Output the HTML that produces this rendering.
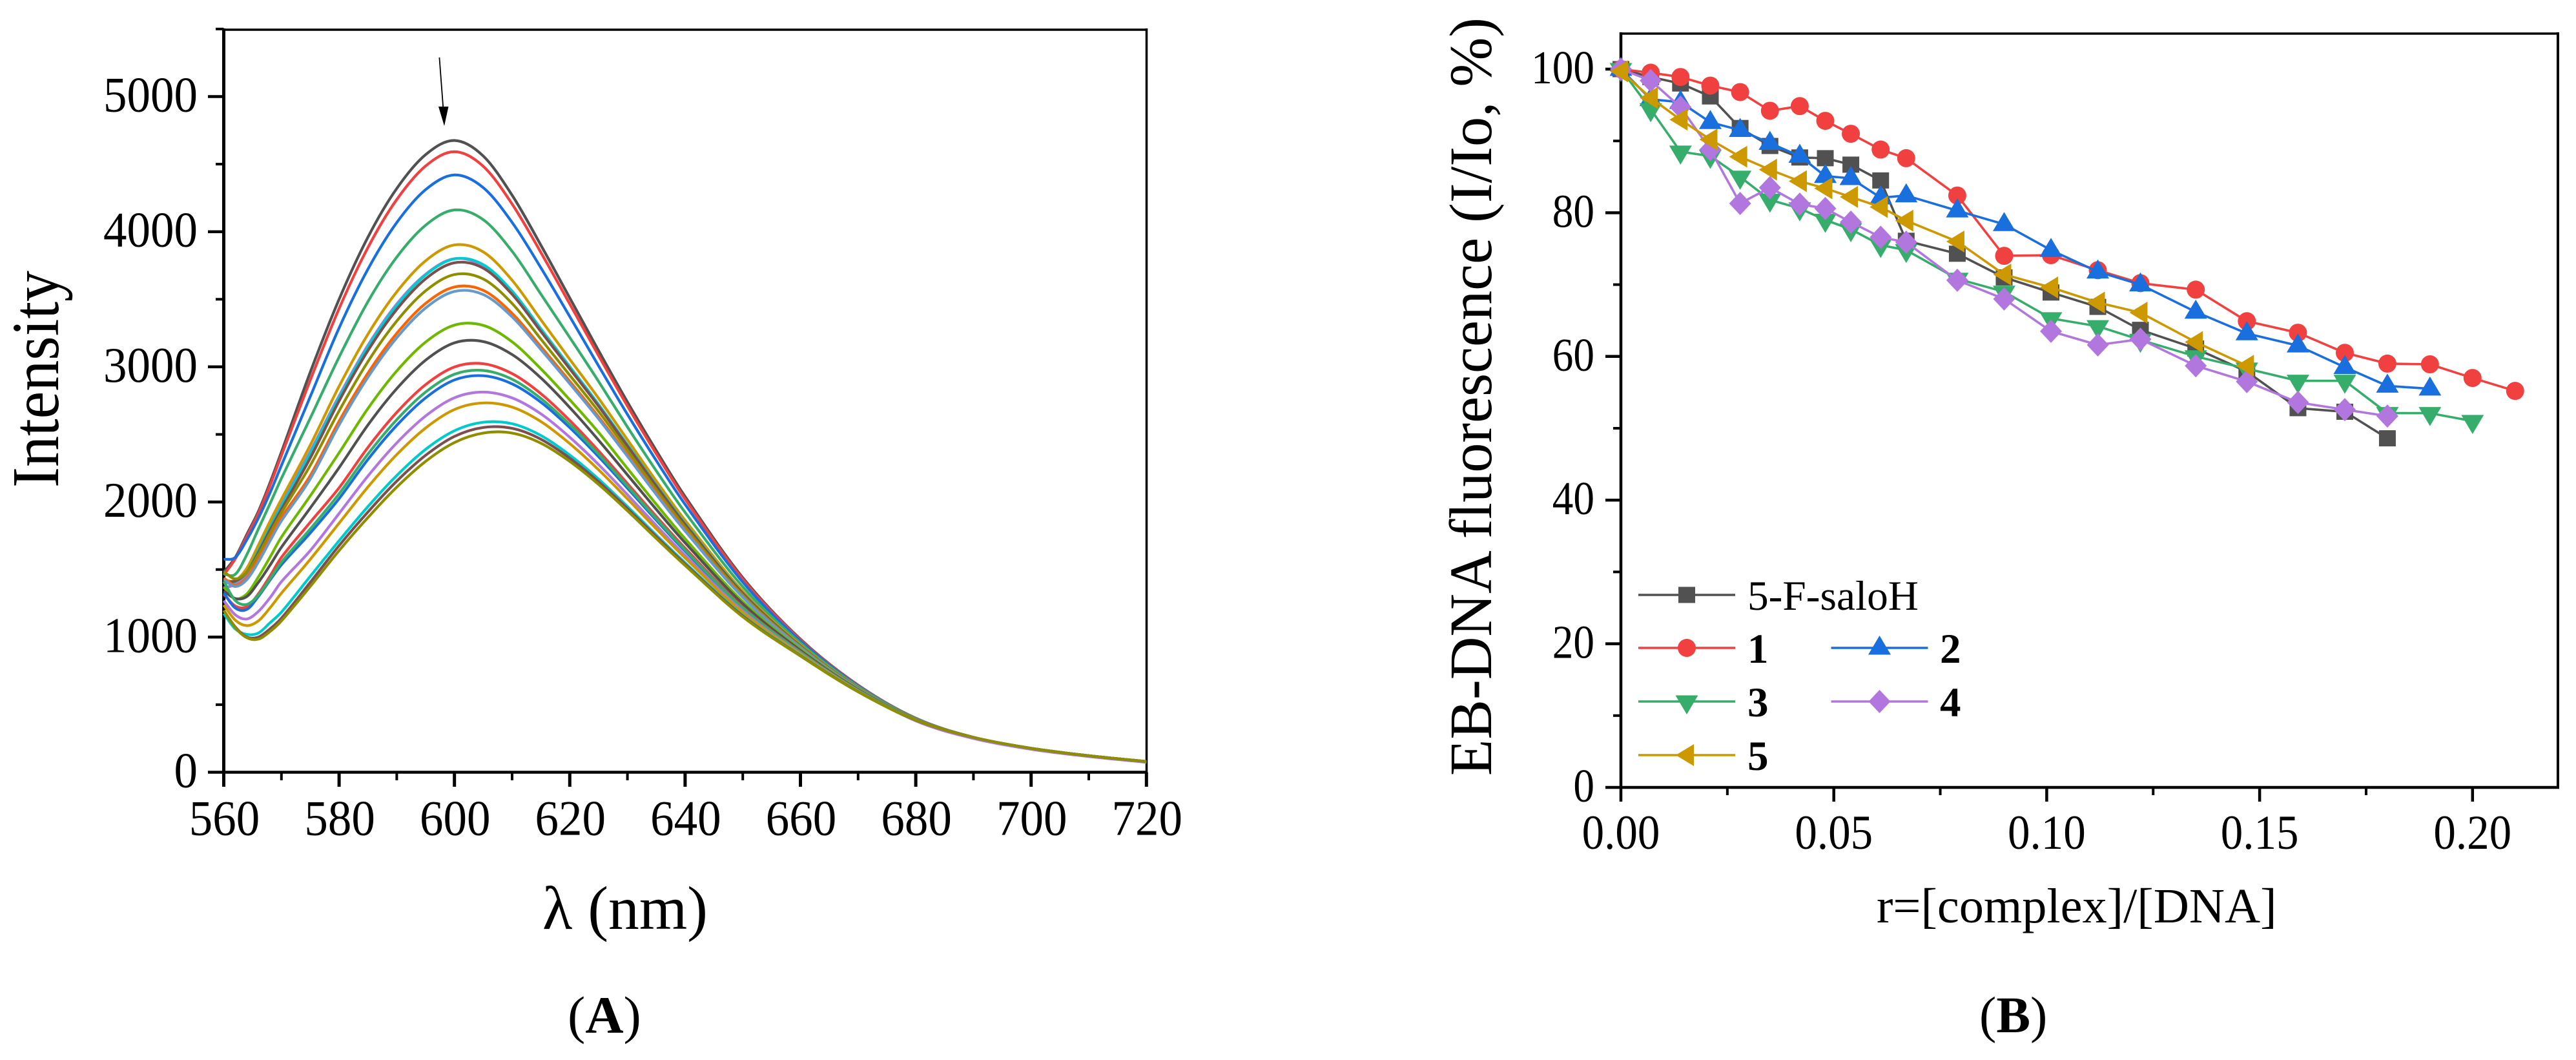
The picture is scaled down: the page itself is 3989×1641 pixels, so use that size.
<!DOCTYPE html>
<html lang="en">
<head>
<meta charset="utf-8">
<title>EB-DNA fluorescence quenching</title>
<style>
html,body{margin:0;padding:0;background:#fff;}
body{width:3989px;height:1641px;overflow:hidden;}
svg{display:block;}
text{font-family:"Liberation Serif","DejaVu Serif",serif;fill:#000;}
</style>
</head>
<body>
<svg id="figure" xmlns="http://www.w3.org/2000/svg" width="3989" height="1641" viewBox="0 0 3989 1641">
<rect x="0" y="0" width="3989" height="1641" fill="#ffffff"/>
<g id="panel-a"></g>
<g id="panel-b"></g>
</svg>
<script>
/* ---------- Panel A data ---------- */
const wavelengths = [560,562,564,566,568,570,575,580,585,590,595,600,605,610,615,620,625,630,635,640,650,660,670,680,690,700,710,720];
const curveColors = ['#515151','#F14040','#1A6FDF','#37AD6B','#B177DE','#CC9900','#00CBCC','#7D4E4E','#8E8E00','#FB6501','#6699CC','#6FB802','#515151','#F14040','#1A6FDF','#37AD6B','#B177DE','#CC9900','#00CBCC','#7D4E4E','#8E8E00'];
const curve01 = [1480,1590,1760,1930,2140,2370,2960,3500,3960,4320,4570,4675,4560,4270,3900,3510,3120,2740,2380,2040,1440,985,645,400,258,177,122,78];
const curve02 = [1460,1580,1745,1915,2120,2345,2901,3431,3883,4238,4486,4592,4484,4205,3846,3465,3083,2710,2356,2021,1429,980,643,399,258,177,122,78];
const curve03 = [1575,1590,1720,1880,2065,2270,2779,3288,3723,4068,4311,4420,4326,4069,3733,3372,3007,2648,2306,1982,1407,971,639,398,258,177,122,78];
const curve04 = [1465,1465,1610,1800,1985,2175,2620,3072,3483,3812,4048,4161,4089,3855,3538,3217,2892,2555,2230,1923,1373,956,634,397,258,177,122,78];
const curve05 = [1365,1390,1470,1650,1825,1985,2375,2785,3160,3465,3685,3800,3745,3540,3262,2985,2710,2412,2115,1830,1315,925,615,380,250,170,116,73];
const curve06 = [1420,1420,1510,1680,1855,2020,2420,2856,3242,3555,3785,3902,3851,3641,3348,3056,2767,2461,2155,1864,1340,942,628,395,258,177,122,79];
const curve07 = [1400,1410,1480,1640,1810,1970,2360,2771,3147,3454,3680,3799,3756,3560,3281,3001,2722,2424,2125,1840,1326,936,625,394,258,177,122,79];
const curve08 = [1410,1415,1480,1625,1790,1945,2325,2747,3120,3425,3651,3770,3730,3537,3262,2985,2709,2414,2117,1833,1323,934,625,394,258,177,122,79];
const curve09 = [1484,1431,1480,1610,1765,1920,2270,2674,3039,3339,3562,3683,3650,3469,3205,2938,2670,2383,2091,1814,1311,930,623,393,258,177,122,79];
const curve10 = [1436,1385,1440,1575,1730,1885,2195,2598,2954,3248,3469,3591,3566,3396,3149,2893,2630,2350,2065,1793,1299,924,621,393,258,177,122,79];
const curve11 = [1425,1375,1425,1555,1710,1860,2170,2570,2923,3215,3435,3558,3535,3370,3128,2875,2615,2338,2055,1785,1295,922,620,392,258,177,122,79];
const curve12 = [1370,1285,1320,1445,1590,1740,2045,2364,2692,2970,3183,3309,3307,3185,2985,2756,2515,2248,1983,1728,1263,909,614,391,258,177,122,79];
const curve13 = [1341,1285,1300,1405,1530,1665,1955,2254,2570,2839,3049,3178,3187,3091,2918,2699,2457,2201,1945,1698,1246,901,611,390,258,177,122,79];
const curve14 = [1317,1230,1225,1320,1450,1590,1850,2105,2404,2663,2868,2999,3023,2950,2801,2603,2378,2136,1893,1658,1222,891,607,389,258,177,122,79];
const curve15 = [1326,1215,1205,1300,1420,1535,1770,2025,2315,2567,2770,2903,2934,2874,2738,2550,2335,2102,1865,1636,1210,886,605,388,258,177,122,79];
const curve16 = [1412,1270,1242,1310,1430,1555,1800,2060,2354,2609,2813,2945,2973,2908,2766,2573,2354,2117,1877,1645,1216,888,606,388,258,177,122,79];
const curve17 = [1269,1165,1134,1190,1290,1410,1640,1915,2192,2437,2636,2771,2813,2770,2652,2479,2277,2054,1826,1605,1193,878,602,382,255,175,120,76];
const curve18 = [1237,1125,1085,1120,1215,1325,1575,1843,2111,2351,2547,2684,2733,2702,2595,2432,2238,2023,1801,1586,1182,874,600,387,258,177,122,79];
const curve19 = [1174,1060,1020,1030,1105,1185,1450,1713,1966,2196,2389,2527,2590,2579,2492,2347,2169,1966,1755,1550,1161,865,597,386,258,177,122,79];
const curve20 = [1197,1075,1000,1000,1060,1140,1405,1677,1926,2154,2345,2485,2551,2545,2464,2324,2150,1951,1743,1540,1156,862,596,385,258,177,122,80];
const curve21 = [1197,1070,995,985,1040,1120,1375,1640,1885,2110,2300,2440,2510,2510,2435,2300,2130,1935,1730,1530,1150,860,595,385,258,177,122,80];
const curvesA = [curve01,curve02,curve03,curve04,curve05,curve06,curve07,curve08,curve09,curve10,curve11,curve12,curve13,curve14,curve15,curve16,curve17,curve18,curve19,curve20,curve21];
const xTicksA = [560,580,600,620,640,660,680,700,720];
const xMinorA = [570,590,610,630,650,670,690,710];
const yTicksA = [0,1000,2000,3000,4000,5000];
const yMinorA = [500,1500,2500,3500,4500,5500];

/* ---------- Panel B data ---------- */
const ratios = [0,0.007,0.014,0.021,0.028,0.035,0.042,0.048,0.054,0.061,0.067,0.079,0.09,0.101,0.112,0.122,0.135,0.147,0.159,0.17,0.18,0.19,0.2,0.21];
const seriesSalo = [100,98.9,98,96.2,91.8,89.3,87.7,87.6,86.7,84.5,76.1,74.3,71,68.9,66.9,63.7,61.1,57.9,52.8,52.3,48.6];
const series1 = [100,99.5,98.9,97.7,96.8,94.2,94.85,92.8,91,88.8,87.6,82.4,74,74.1,72,70.2,69.3,64.9,63.3,60.5,59,58.9,57,55.2];
const series2 = [100,95.8,95.4,92.6,91.5,89.7,87.9,85.1,84.8,82.1,82.4,80.3,78.4,74.8,71.8,70,66.2,63.2,61.5,58.5,55.9,55.5];
const series3 = [100,94.4,88.5,87.9,85,81.8,80.6,79,77.7,75.5,74.8,70.8,69,65.3,64.2,62.3,60,58.3,56.6,56.6,52.1,52.1,51];
const series4 = [100,98.4,94.7,88.8,81.3,83.5,81.2,80.6,78.7,76.6,75.9,70.6,68,63.5,61.6,62.4,58.7,56.5,53.6,52.6,51.7];
const series5 = [99.7,96,92.96,90.2,87.8,86,84.4,83.4,82.2,80.8,78.9,76,71.4,69.6,67.5,66.1,62,58.7];
const seriesNames = ['5-F-saloH','1','2','3','4','5'];
const seriesColors = ['#515151','#F14040','#1A6FDF','#37AD6B','#B177DE','#CC9900'];
const seriesShapes = ['square','circle','up','down','diamond','left'];
const seriesB = [seriesSalo,series1,series2,series3,series4,series5];
const xTicksB = [0,0.05,0.1,0.15,0.2];
const xMinorB = [0.025,0.075,0.125,0.175];
const yTicksB = [0,20,40,60,80,100];
const yMinorB = [10,30,50,70,90];

/* ---------- Helpers ---------- */
const SVGNS = 'http://www.w3.org/2000/svg';
const panelA = document.getElementById('panel-a');
const panelB = document.getElementById('panel-b');

function make(parent, tag, name, attrs) {
  const el = document.createElementNS(SVGNS, tag);
  
  
  for (const k in attrs) el.setAttribute(k, attrs[k]);
  parent.appendChild(el);
  return el;
}
function line(parent, name, x1, y1, x2, y2, w, color) {
  return make(parent, 'line', name, {x1:x1, y1:y1, x2:x2, y2:y2, stroke:color || '#000', 'stroke-width':w});
}
function label(parent, name, str, x, y, size, anchor, sy) {
  const t = make(parent, 'text', name, {
    transform:'translate(' + x + ',' + y + ') scale(1,' + sy + ')',
    'font-size':size, 'text-anchor':anchor
  });
  t.textContent = str;
  return t;
}
function smoothPath(xs, ys) {
  const n = xs.length;
  const m = [];
  for (let i = 0; i < n; i++) {
    const a = Math.max(i - 1, 0), b = Math.min(i + 1, n - 1);
    m.push((ys[b] - ys[a]) / (xs[b] - xs[a]));
  }
  let d = 'M' + xs[0].toFixed(1) + ' ' + ys[0].toFixed(1);
  for (let i = 0; i < n - 1; i++) {
    const h = (xs[i + 1] - xs[i]) / 3;
    d += 'C' + (xs[i] + h).toFixed(1) + ' ' + (ys[i] + m[i] * h).toFixed(1) + ' ' +
         (xs[i + 1] - h).toFixed(1) + ' ' + (ys[i + 1] - m[i + 1] * h).toFixed(1) + ' ' +
         xs[i + 1].toFixed(1) + ' ' + ys[i + 1].toFixed(1);
  }
  return d;
}

/* ---------- Panel A ---------- */
const xA = v => 346.5 + (v - 560) * 8.93;
const yA = v => 1195.5 - v * 0.2092;

line(panelA, 'top-axis', 344, 46, 1777, 46, 3.5);
line(panelA, 'right-axis', 1775.5, 44, 1775.5, 1197, 3.5);
line(panelA, 'left-axis', 346.5, 44, 346.5, 1197.5, 5);
line(panelA, 'bottom-axis', 344, 1195.5, 1777, 1195.5, 4.5);

xTicksA.forEach(v => {
  line(panelA, 'x-major-tick', xA(v), 1195.5, xA(v), 1218, 5);
  label(panelA, 'x-tick-label', String(v), xA(v) + 1, 1292.5, 73, 'middle', 1.055);
});
xMinorA.forEach(v => {
  line(panelA, 'x-minor-tick', xA(v), 1195.5, xA(v), 1208, 4);
});
yTicksA.forEach(v => {
  line(panelA, 'y-major-tick', 322, yA(v), 346.5, yA(v), 4.5);
  label(panelA, 'y-tick-label', String(v), 306, yA(v) + 23, 73, 'end', 1.055);
});
yMinorA.forEach(v => {
  line(panelA, 'y-minor-tick', 334, yA(v), 346.5, yA(v), 4);
});

curvesA.forEach((vals, i) => {
  const el = make(panelA, 'path', 'intensity-curve', {
    d: smoothPath(wavelengths.map(xA), vals.map(yA)),
    fill:'none', stroke:curveColors[i], 'stroke-width':4.2, 'stroke-linejoin':'round'
  });
  el.setAttribute('data-series', String(i + 1));
});

const arrowGroup = make(panelA, 'g', 'quenching-arrow', {});
line(arrowGroup, 'arrow-shaft', 680.4, 89, 686.5, 170, 1.8);
make(arrowGroup, 'polygon', 'arrow-head', {points:'679,165 694.5,165 688,195', fill:'#000'});

const titleYA = make(panelA, 'text', 'y-axis-title', {
  transform:'translate(90,755) rotate(-90)', 'font-size':104, textLength:336, lengthAdjust:'spacingAndGlyphs'
});
titleYA.textContent = 'Intensity';
const titleXA = make(panelA, 'text', 'x-axis-title', {
  x:840, y:1438, 'font-size':95, textLength:256, lengthAdjust:'spacingAndGlyphs'
});
titleXA.textContent = 'λ (nm)';

const capA = make(panelA, 'text', 'panel-a-caption', {x:879, y:1599, 'font-size':82});
capA.appendChild(document.createTextNode('('));
const capAb = make(capA, 'tspan', 'panel-a-letter', {'font-weight':'bold'});
capAb.textContent = 'A';
capA.appendChild(document.createTextNode(')'));

/* ---------- Panel B ---------- */
const xB = v => 2510 + v * 6594;
const yB = v => 1219 - v * 11.12;

line(panelB, 'top-axis', 2508, 52, 3963, 52, 3.5);
line(panelB, 'right-axis', 3961, 50, 3961, 1221, 4);
line(panelB, 'left-axis', 2510, 50, 2510, 1221, 4.5);
line(panelB, 'bottom-axis', 2508, 1219, 3963, 1219, 4.5);

xTicksB.forEach(v => {
  line(panelB, 'x-major-tick', xB(v), 1219, xB(v), 1241, 4.5);
  label(panelB, 'x-tick-label', v.toFixed(2), xB(v), 1314, 69, 'middle', 1.09);
});
xMinorB.forEach(v => {
  line(panelB, 'x-minor-tick', xB(v), 1219, xB(v), 1231, 4);
});
yTicksB.forEach(v => {
  line(panelB, 'y-major-tick', 2486, yB(v), 2510, yB(v), 4.5);
  label(panelB, 'y-tick-label', String(v), 2469, yB(v) + 22, 65.3, 'end', 1.12);
});
yMinorB.forEach(v => {
  line(panelB, 'y-minor-tick', 2498, yB(v), 2510, yB(v), 4);
});

function marker(parent, shape, x, y, color, name) {
  if (shape === 'circle') {
    return make(parent, 'circle', name, {cx:x, cy:y, r:14, fill:color});
  }
  if (shape === 'square') {
    return make(parent, 'rect', name, {x:x - 13, y:y - 12.5, width:26, height:25, fill:color});
  }
  const shapes = {
    up: [[-17.5,10.5],[17.5,10.5],[0,-19]],
    down: [[-17.5,-9.5],[17.5,-9.5],[0,20]],
    left: [[-17,0],[11,-17],[11,17]],
    diamond: [[-17,0],[0,-18],[17,0],[0,18]]
  };
  const pts = shapes[shape].map(p => (x + p[0]) + ',' + (y + p[1])).join(' ');
  return make(parent, 'polygon', name, {points:pts, fill:color});
}

seriesB.forEach((vals, i) => {
  const g = make(panelB, 'g', 'series-' + seriesNames[i].toLowerCase(), {});
  const pts = vals.map((v, j) => xB(ratios[j]).toFixed(1) + ',' + yB(v).toFixed(1)).join(' ');
  make(g, 'polyline', 'series-line', {points:pts, fill:'none', stroke:seriesColors[i], 'stroke-width':3.6, 'stroke-linejoin':'round'});
  vals.forEach((v, j) => {
    marker(g, seriesShapes[i], xB(ratios[j]), yB(v), seriesColors[i], 'series-point');
  });
});

const legend = make(panelB, 'g', 'legend', {});
const legendCol = [0,0,1,0,1,0];
const legendRow = [921,1003,1003,1086,1086,1169];
seriesNames.forEach((name, i) => {
  const g = make(legend, 'g', 'legend-entry', {});
  const x0 = legendCol[i] ? 2835.5 : 2537;
  const y0 = legendRow[i];
  line(g, 'legend-line', x0, y0, x0 + 150, y0, 3.6, seriesColors[i]);
  marker(g, seriesShapes[i], x0 + 75, y0, seriesColors[i], 'legend-marker');
  const t = make(g, 'text', 'legend-label', {
    x: legendCol[i] ? 3004 : 2706,
    y: y0 + 23,
    'font-size':65
  });
  if (i > 0) t.setAttribute('font-weight', 'bold');
  if (i === 0) {
    t.setAttribute('textLength', '265');
    t.setAttribute('lengthAdjust', 'spacingAndGlyphs');
  }
  t.textContent = name;
});

const titleYB = make(panelB, 'text', 'y-axis-title', {
  transform:'translate(2309,1201) rotate(-90)', 'font-size':93, textLength:1174, lengthAdjust:'spacingAndGlyphs'
});
titleYB.textContent = 'EB-DNA fluorescence (I/Io, %)';
const titleXB = make(panelB, 'text', 'x-axis-title', {
  x:2906, y:1428, 'font-size':76, textLength:619.5, lengthAdjust:'spacingAndGlyphs'
});
titleXB.textContent = 'r=[complex]/[DNA]';

const capB = make(panelB, 'text', 'panel-b-caption', {x:3065, y:1598, 'font-size':79});
capB.appendChild(document.createTextNode('('));
const capBb = make(capB, 'tspan', 'panel-b-letter', {'font-weight':'bold'});
capBb.textContent = 'B';
capB.appendChild(document.createTextNode(')'));
</script>
</body>
</html>
